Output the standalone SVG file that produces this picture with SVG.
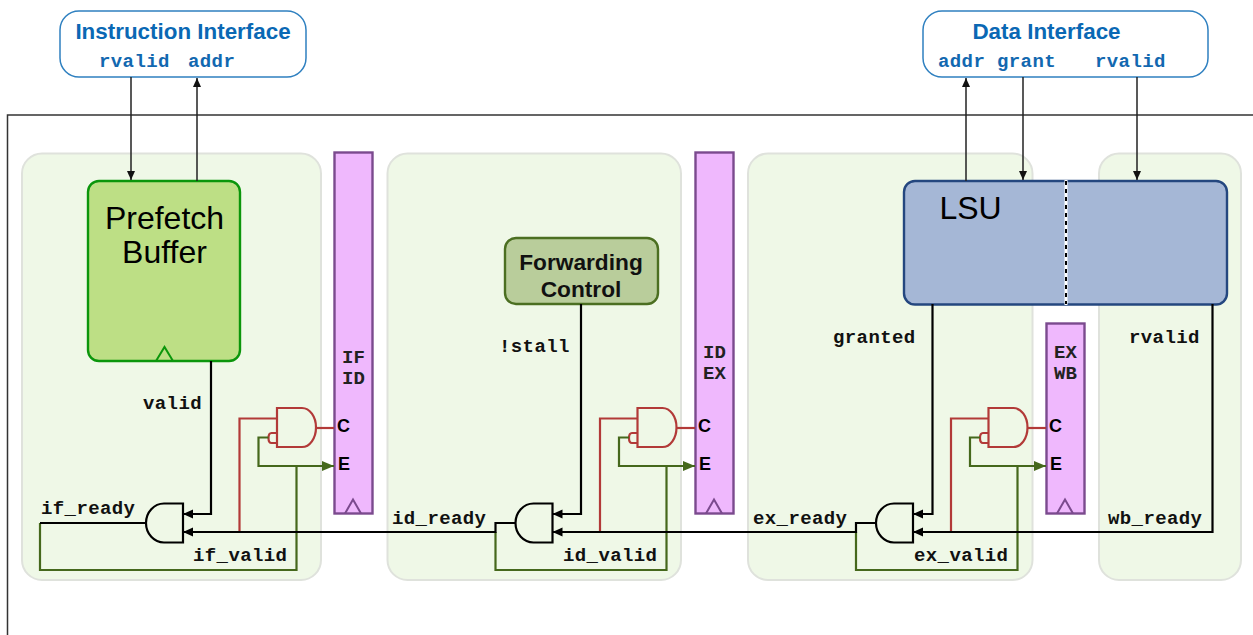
<svg xmlns="http://www.w3.org/2000/svg" width="1253" height="635" viewBox="0 0 1253 635">
<style>
.stage{fill:#eff8e7;stroke:#dfe2dc;stroke-width:2}
.reg{fill:#efb8fd;stroke:#7b4a8e;stroke-width:2.4}
.tri{fill:none;stroke:#7b4a8e;stroke-width:2}
.iface{fill:#fff;stroke:#2f80c0;stroke-width:1.5}
.it{font:bold 22.4px "Liberation Sans",Arial,sans-serif;fill:#0a68b4;text-anchor:middle}
.ip{font:bold 19px "Liberation Mono","Courier New",monospace;fill:#1268b0;letter-spacing:.4px}
.sig{font:bold 19px "Liberation Mono","Courier New",monospace;fill:#111;letter-spacing:.4px}
.regt{font:bold 19px "Liberation Mono","Courier New",monospace;fill:#222;text-anchor:middle}
.ce{font:bold 18px "Liberation Sans",Arial,sans-serif;fill:#000}
.big{font:32px "Liberation Sans",Arial,sans-serif;fill:#000;text-anchor:middle}
.fc{font:bold 22.7px "Liberation Sans",Arial,sans-serif;fill:#111;text-anchor:middle}
.bk{fill:none;stroke:#000;stroke-width:2.2}
.th{fill:none;stroke:#222;stroke-width:1.5}
.rd{fill:none;stroke:#b23a38;stroke-width:2.2}
.gn{fill:none;stroke:#45681c;stroke-width:2.2}
</style>
<defs>
<marker id="a" markerUnits="userSpaceOnUse" markerWidth="12" markerHeight="10" refX="10" refY="4.500" orient="auto"><path d="M0 0L10 4.500L0 9z" fill="#000"/></marker>
<marker id="at" markerUnits="userSpaceOnUse" markerWidth="10" markerHeight="10" refX="9" refY="4" orient="auto"><path d="M0 0L9 4L0 8z" fill="#111"/></marker>
<marker id="ag" markerUnits="userSpaceOnUse" markerWidth="13" markerHeight="12" refX="12" refY="5" orient="auto"><path d="M0 0L12 5L0 10z" fill="#45681c"/></marker>
<g id="redgate"><path class="rd" d="M0 0H25A14 19.500 0 0 1 25 39H0Z"/><path class="rd" d="M0 25H-5.500Q-8.500 25-8.500 30Q-8.500 35-5.500 35H0"/></g>
<path id="blackgate" class="bk" d="M37 0H18A18 19.500 0 0 0 18 39H37Z"/>
<g id="regtri"><path class="tri" d="M0 14L8 0L16 14"/></g>
</defs>

<rect id="frame" x="7.500" y="115" width="1260" height="540" fill="#fff" stroke="#333" stroke-width="1.500"/>

<g id="stage-if"><rect class="stage" x="22" y="153.500" width="299" height="426.500" rx="20"/></g>
<g id="stage-id"><rect class="stage" x="387.500" y="153.500" width="293.500" height="426.500" rx="20"/></g>
<g id="stage-ex"><rect class="stage" x="748" y="153.500" width="284.500" height="426.500" rx="20"/></g>
<g id="stage-wb"><rect class="stage" x="1099" y="153.500" width="142" height="426.500" rx="20"/></g>

<g id="reg-if-id"><rect class="reg" x="334.500" y="152.500" width="38" height="361"/><use href="#regtri" x="345" y="499.500"/>
<text class="regt" x="353.500" y="363">IF</text><text class="regt" x="353.500" y="384">ID</text>
<text class="ce" x="337" y="432">C</text><text class="ce" x="338" y="470">E</text></g>
<g id="reg-id-ex"><rect class="reg" x="695.500" y="152.500" width="38" height="361"/><use href="#regtri" x="706" y="499.500"/>
<text class="regt" x="714.500" y="358">ID</text><text class="regt" x="714.500" y="379">EX</text>
<text class="ce" x="698" y="432">C</text><text class="ce" x="699" y="470">E</text></g>
<g id="reg-ex-wb"><rect class="reg" x="1046.500" y="323.500" width="38" height="190"/><use href="#regtri" x="1057" y="499.500"/>
<text class="regt" x="1065.500" y="358">EX</text><text class="regt" x="1065.500" y="379">WB</text>
<text class="ce" x="1049" y="432">C</text><text class="ce" x="1050" y="470">E</text></g>

<g id="prefetch-buffer"><rect x="88" y="181" width="152" height="180" rx="11" fill="#bddf85" stroke="#0b960b" stroke-width="2.400"/>
<path d="M156 361L164.500 347L173 361" fill="none" stroke="#0b960b" stroke-width="2"/>
<text class="big" x="164.500" y="229">Prefetch</text><text class="big" x="164.500" y="263">Buffer</text></g>

<g id="forwarding-control"><rect x="505" y="238" width="153" height="66" rx="11" fill="#b9cd9b" stroke="#4b6f21" stroke-width="2.400"/>
<text class="fc" x="581" y="270">Forwarding</text><text class="fc" x="581" y="297">Control</text></g>

<g id="lsu"><rect x="904" y="181" width="323" height="123.500" rx="11" fill="#a5b7d6" stroke="#24477f" stroke-width="2.400"/>
<path d="M1066 180V305" stroke="#fff" stroke-width="3"/><path d="M1066 181V304" stroke="#000" stroke-width="2" stroke-dasharray="4 4"/>
<text class="big" x="970.500" y="219">LSU</text></g>

<g id="instruction-interface"><rect class="iface" x="60" y="11" width="246" height="66" rx="19"/>
<text class="it" x="183" y="39">Instruction Interface</text>
<text class="ip" x="99" y="66.500">rvalid</text><text class="ip" x="188" y="66.500">addr</text></g>
<g id="data-interface"><rect class="iface" x="923" y="11" width="285" height="66" rx="19"/>
<text class="it" x="1046.500" y="39">Data Interface</text>
<text class="ip" x="938" y="66.500">addr</text><text class="ip" x="997" y="66.500">grant</text><text class="ip" x="1095" y="66.500">rvalid</text></g>

<g id="gates">
<use href="#redgate" x="277" y="408"/><use href="#redgate" x="637.500" y="408"/><use href="#redgate" x="988.500" y="408"/>
<use href="#blackgate" x="146" y="503.500"/><use href="#blackgate" x="515.500" y="503.500"/><use href="#blackgate" x="876" y="503.500"/>
</g>

<g id="connectors">
<path class="th" d="M131 77V180" marker-end="url(#at)"/>
<path class="th" d="M197 181V78" marker-end="url(#at)"/>
<path class="th" d="M966 181V78" marker-end="url(#at)"/>
<path class="th" d="M1023 77V180" marker-end="url(#at)"/>
<path class="th" d="M1137 77V180" marker-end="url(#at)"/>

<path class="rd" d="M239.500 532V418.500H277"/><path class="rd" d="M316.500 428H334"/>
<path class="rd" d="M600 532V418.500H637.500"/><path class="rd" d="M677 428H695"/>
<path class="rd" d="M951 532V418.500H988.500"/><path class="rd" d="M1028 428H1046"/>

<path class="gn" d="M268.500 437.500H258.500V466H334" marker-end="url(#ag)"/>
<path class="gn" d="M296.500 466V570H40V523"/>
<path class="gn" d="M629 437.500H619V466H695" marker-end="url(#ag)"/>
<path class="gn" d="M666.500 466V570H495.500V532"/>
<path class="gn" d="M980 437.500H970V466H1046" marker-end="url(#ag)"/>
<path class="gn" d="M1017.500 466V570H856V532"/>

<path class="bk" d="M211 361V514H183" marker-end="url(#a)"/>
<path class="bk" d="M581 304V514H552.500" marker-end="url(#a)"/>
<path class="bk" d="M932.500 304V514H913" marker-end="url(#a)"/>
<path class="bk" d="M40 523H146"/>
<path class="bk" d="M515.500 523H495.500V532H183" marker-end="url(#a)"/>
<path class="bk" d="M876 523H856V532H552.500" marker-end="url(#a)"/>
<path class="bk" d="M1212.500 304V532H913" marker-end="url(#a)"/>
</g>

<g id="labels">
<text class="sig" x="143" y="408.500">valid</text>
<text class="sig" x="41" y="513.500">if_ready</text>
<text class="sig" x="193" y="560.500">if_valid</text>
<text class="sig" x="499" y="351.500">!stall</text>
<text class="sig" x="392" y="523.500">id_ready</text>
<text class="sig" x="563" y="560.500">id_valid</text>
<text class="sig" x="833" y="342.500">granted</text>
<text class="sig" x="753" y="523.500">ex_ready</text>
<text class="sig" x="914" y="560.500">ex_valid</text>
<text class="sig" x="1129" y="342.500">rvalid</text>
<text class="sig" x="1108" y="523.500">wb_ready</text>
</g>
</svg>
